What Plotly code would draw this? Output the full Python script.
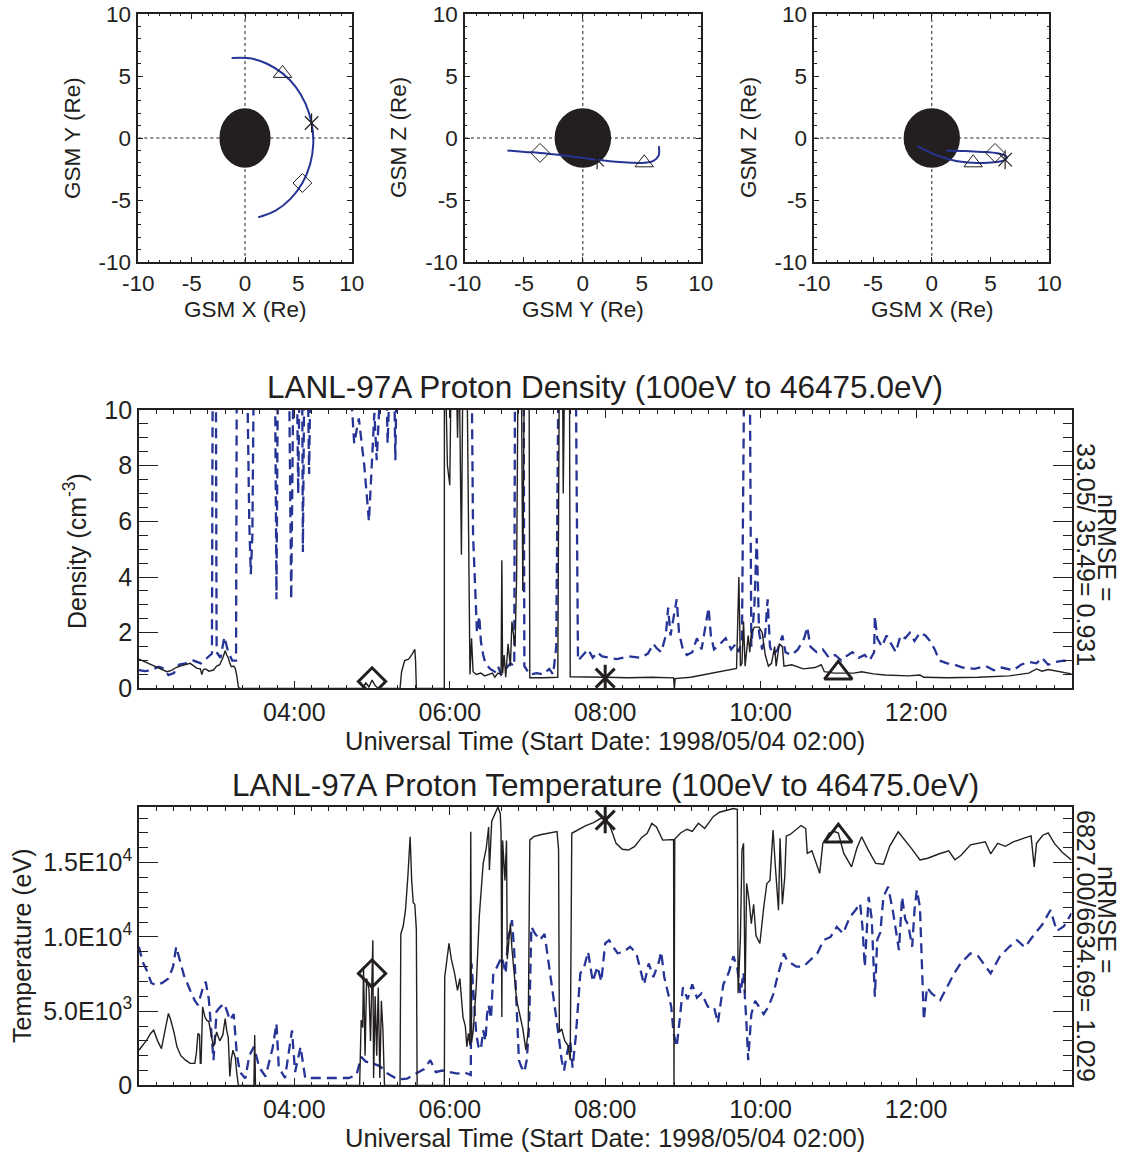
import plotly.graph_objects as go

W, H = 1129, 1155

# ---------------- orbit (hourly positions 02:00 .. 14:00, in Re) ----------------
orbit_hours = [2, 3, 4, 5, 6, 7, 8, 9, 10, 11, 12, 13, 14]
orbit_x = [1.24, 2.86, 4.26, 5.38, 6.11, 6.40, 6.24, 5.67, 4.75, 3.52, 2.06, 0.45, -1.25]
orbit_y = [-6.40, -5.86, -4.91, -3.63, -2.10, -0.45, 1.21, 2.77, 4.13, 5.21, 5.99, 6.43, 6.45]
orbit_z = [-1.00, -1.05, -1.12, -1.20, -1.35, -1.55, -1.75, -1.92, -2.00, -2.00, -1.85, -1.40, -0.65]
marker_hours = [5, 8, 11]          # diamond, asterisk, triangle
earth_radius = 2.4
axis_ticks_orbit = [-10, -5, 0, 5, 10]
axis_ticktext_orbit = ["-10", "-5", "0", "5", "10"]

# ---------------- density (cm^-3) ----------------
dens_obs_t = [2.00, 2.08, 2.14, 2.22, 2.30, 2.36, 2.42, 2.48, 2.53, 2.60, 2.66, 2.70, 2.75, 2.79, 2.81, 2.83,
              2.86, 2.90, 2.96, 3.00, 3.04, 3.08, 3.11, 3.13, 3.15, 3.17, 3.19, 3.22, 3.24, 3.26, 3.28, 3.30,
              4.88, 4.92, 4.96, 5.00, 5.04, 5.08, 5.36, 5.38, 5.42, 5.47, 5.51, 5.55, 5.56, 5.57, 5.93, 5.931,
              5.94, 5.97, 6.00, 6.02, 6.08, 6.10, 6.12, 6.15, 6.17, 6.22, 6.26, 6.28, 6.30, 6.34, 6.40, 6.45,
              6.50, 6.55, 6.58, 6.62, 6.66, 6.67, 6.68, 6.70, 6.72, 6.75, 6.78, 6.80, 6.84, 6.86, 6.88, 6.92,
              6.94, 6.96, 7.02, 7.03, 7.20, 7.39, 7.41, 7.45, 7.46, 7.48, 7.54, 7.55, 8.00, 8.30, 8.60, 8.88,
              8.89, 8.90, 9.10, 9.30, 9.50, 9.69, 9.72, 9.74, 9.76, 9.78, 9.80, 9.82, 9.84, 9.86, 9.88, 9.92,
              9.98, 10.02, 10.06, 10.10, 10.14, 10.18, 10.20, 10.24, 10.28, 10.30, 10.40, 10.55, 10.70, 10.78,
              10.82, 10.95, 11.10, 11.20, 11.30, 11.45, 11.60, 11.90, 12.05, 12.10, 12.40, 12.80, 13.20, 13.45,
              13.55, 13.62, 13.70, 13.85, 14.00]
dens_obs_v = [1.05, 0.95, 0.88, 0.78, 0.68, 0.60, 0.65, 0.75, 0.80, 0.85, 0.90, 0.82, 0.72, 0.70, 0.50, 0.68,
              0.70, 0.62, 0.66, 0.80, 0.85, 1.10, 1.35, 1.20, 1.10, 0.90, 0.78, 0.80, 0.72, 0.45, 0.05, 0.00,
              0.00, 0.20, 0.05, 0.30, 0.10, 0.00, 0.00, 0.60, 1.00, 1.05, 1.20, 1.40, 1.00, 0.00, 0.00, 12.0,
              12.0, 8.0, 7.3, 12.0, 12.0, 9.0, 12.0, 4.8, 12.0, 12.0, 0.50, 1.80, 0.60, 0.50, 0.55, 0.45,
              0.50, 0.55, 0.40, 0.55, 0.50, 4.60, 0.55, 1.20, 0.40, 1.60, 0.80, 2.40, 1.50, 4.00, 12.0, 12.0,
              3.50, 12.0, 12.0, 0.38, 0.38, 0.40, 12.0, 12.0, 7.0, 12.0, 12.0, 0.42, 0.40, 0.38, 0.40, 0.38,
              0.00, 0.35, 0.40, 0.50, 0.60, 0.72, 4.00, 0.80, 0.90, 2.40, 0.80, 1.40, 1.90, 1.30, 2.00, 2.20,
              2.20, 2.00, 1.20, 0.80, 0.90, 1.50, 0.80, 1.60, 1.50, 0.80, 0.85, 0.70, 0.75, 0.85,
              0.60, 0.55, 0.55, 0.55, 0.60, 0.52, 0.48, 0.45, 0.48, 0.40, 0.38, 0.40, 0.45, 0.55,
              0.70, 0.62, 0.68, 0.60, 0.52]

dens_mod_t = [2.00, 2.08, 2.17, 2.25, 2.32, 2.38, 2.45, 2.52, 2.60, 2.70, 2.80, 2.88, 2.94, 2.95, 2.99, 3.00,
              3.05, 3.10, 3.14, 3.20, 3.25, 3.26, 3.39, 3.42, 3.44, 3.46, 3.48, 3.75, 3.77, 3.79, 3.93, 3.96,
              3.99, 4.03, 4.05, 4.07, 4.10, 4.11, 4.13, 4.17, 4.19, 4.21, 4.70, 4.77, 4.83, 4.90, 4.96, 5.03,
              5.06, 5.10, 5.18, 5.20, 5.24, 5.28, 5.30, 5.32, 6.28, 6.30, 6.33, 6.35, 6.38, 6.40, 6.43, 6.46,
              6.52, 6.58, 6.62, 6.66, 6.72, 6.78, 6.83, 6.84, 6.95, 6.96, 7.03, 7.12, 7.20, 7.28, 7.33, 7.37,
              7.40, 7.62, 7.65, 7.72, 7.78, 7.84, 7.90, 7.96, 8.05, 8.15, 8.30, 8.45, 8.55, 8.62, 8.66, 8.72,
              8.78, 8.81, 8.84, 8.88, 8.92, 8.95, 9.00, 9.05, 9.12, 9.18, 9.24, 9.30, 9.33, 9.36, 9.40, 9.48,
              9.55, 9.62, 9.68, 9.72, 9.76, 9.79, 9.86, 9.88, 9.92, 9.95, 9.98, 10.02, 10.06, 10.09, 10.12,
              10.16, 10.22, 10.28, 10.32, 10.40, 10.48, 10.56, 10.60, 10.64, 10.72, 10.80, 10.88, 10.96, 11.04,
              11.10, 11.18, 11.26, 11.34, 11.40, 11.46, 11.47, 11.50, 11.56, 11.62, 11.68, 11.74, 11.80, 11.86,
              11.92, 11.98, 12.05, 12.12, 12.18, 12.24, 12.30, 12.40, 12.50, 12.60, 12.75, 12.90, 13.00, 13.10,
              13.25, 13.35, 13.45, 13.55, 13.62, 13.70, 13.80, 13.90, 14.00]
dens_mod_v = [0.66, 0.62, 0.66, 0.78, 0.72, 0.48, 0.55, 0.86, 0.90, 1.00, 0.90, 1.10, 1.25, 12.0, 12.0, 1.30,
              1.10, 1.85, 1.40, 1.00, 1.00, 12.0, 12.0, 6.0, 4.1, 5.5, 12.0, 12.0, 3.2, 12.0, 12.0, 3.2,
              12.0, 12.0, 7.0, 12.0, 12.0, 4.9, 12.0, 12.0, 7.7, 12.0, 12.0, 8.8, 9.7, 8.0, 6.0, 9.9,
              8.2, 10.5, 12.0, 8.8, 12.0, 12.0, 8.2, 12.0, 12.0, 5.5, 3.5, 2.0, 2.6, 1.7, 1.2, 0.9,
              0.7, 0.6, 0.8, 0.5, 0.7, 0.9, 0.8, 12.0, 12.0, 0.8, 0.5, 0.55, 0.5, 0.7, 0.5, 1.5,
              12.0, 12.0, 1.0, 1.2, 1.4, 1.1, 1.3, 1.15, 1.10, 1.05, 1.15, 1.10, 1.25, 1.60, 1.45, 1.30,
              1.90, 2.90, 1.90, 2.50, 3.20, 2.00, 1.40, 1.20, 1.30, 1.80, 1.40, 2.40, 2.90, 1.90, 1.40, 1.60,
              1.80, 1.40, 1.60, 1.30, 1.80, 12.0, 12.0, 1.5, 3.0, 5.4, 2.0, 1.4, 2.0, 3.2, 1.5,
              1.2, 1.4, 1.9, 1.3, 1.2, 1.4, 1.8, 2.2, 1.5, 1.3, 1.4, 1.1, 1.2, 1.0,
              1.15, 1.3, 1.1, 1.2, 1.0, 1.3, 2.6, 1.8, 1.5, 1.9, 1.6, 1.3, 1.9, 1.8,
              2.0, 1.7, 2.0, 1.9, 1.7, 1.4, 1.0, 0.9, 0.85, 0.75, 0.7, 0.8, 0.65, 0.75,
              0.65, 0.85, 0.95, 0.9, 1.1, 0.85, 0.95, 1.0, 0.95]
dens_marker_v = [0.25, 0.37, 0.55]

# ---------------- temperature (eV) ----------------
temp_obs_t = [2.00, 2.05, 2.10, 2.15, 2.19, 2.24, 2.29, 2.34, 2.38, 2.41, 2.45, 2.49, 2.54, 2.60, 2.66, 2.72,
              2.74, 2.76, 2.78, 2.79, 2.80, 2.82, 2.85, 2.87, 2.90, 2.93, 2.96, 3.00, 3.04, 3.08, 3.11, 3.13,
              3.15, 3.17, 3.19, 3.21, 3.24, 3.26, 3.28, 3.48, 3.49, 3.50, 4.84, 4.86, 4.88, 4.89, 4.91, 4.93,
              4.96, 4.98, 5.01, 5.02, 5.04, 5.06, 5.08, 5.10, 5.12, 5.14, 5.16, 5.36, 5.37, 5.40, 5.43, 5.46,
              5.49, 5.51, 5.53, 5.55, 5.57, 5.58, 5.93, 5.935, 5.96, 5.99, 6.02, 6.06, 6.10, 6.13, 6.17, 6.20,
              6.22, 6.24, 6.26, 6.27, 6.28, 6.30, 6.34, 6.38, 6.43, 6.47, 6.50, 6.51, 6.54, 6.58, 6.62, 6.65,
              6.66, 6.67, 6.68, 6.71, 6.73, 6.74, 6.78, 6.80, 6.83, 6.86, 6.90, 6.94, 6.98, 7.01, 7.03, 7.08,
              7.18, 7.28, 7.38, 7.40, 7.41, 7.44, 7.48, 7.52, 7.55, 7.57, 7.65, 7.75, 7.85, 7.95, 8.02, 8.08,
              8.14, 8.22, 8.30, 8.38, 8.47, 8.54, 8.60, 8.66, 8.74, 8.88, 8.885, 8.895, 8.97, 9.05, 9.12, 9.20,
              9.28, 9.39, 9.47, 9.55, 9.65, 9.70, 9.71, 9.74, 9.76, 9.78, 9.80, 9.82, 9.85, 9.88, 9.91, 9.94,
              9.99, 10.04, 10.08, 10.12, 10.16, 10.19, 10.23, 10.25, 10.28, 10.31, 10.33, 10.38, 10.45, 10.52,
              10.58, 10.60, 10.66, 10.73, 10.76, 10.80, 10.88, 10.95, 11.00, 11.07, 11.17, 11.24, 11.30, 11.38,
              11.48, 11.58, 11.66, 11.77, 11.86, 11.95, 12.05, 12.15, 12.30, 12.42, 12.50, 12.58, 12.70, 12.89,
              12.96, 13.05, 13.15, 13.25, 13.38, 13.48, 13.52, 13.55, 13.63, 13.70, 13.78, 13.88, 14.00]
temp_obs_v = [2370, 2700, 3050, 3500, 3720, 3000, 2480, 3800, 4850, 4400, 3600, 2600, 2000, 1700, 1480, 1480,
              2200, 3500, 3400, 1480, 1480, 5290, 4600, 4400, 4300, 3400, 2600, 3600, 3000, 3400, 4500, 3700,
              3200, 600, 1800, 2370, 1900, 800, 0, 0, 3400, 0, 0, 4400, 3900, 8000, 2000, 7200,
              6500, 3000, 9780, 500, 6000, 2000, 6600, 500, 5700, 3700, 0, 0, 10200, 10700, 11800, 14000,
              16750, 13800, 12300, 12200, 10500, 0, 0, 7300, 8400, 9560, 8500, 7600, 6400, 7200, 4600, 4000,
              2600, 3500, 2700, 17080, 2900, 3600, 6600, 11400, 14950, 16000, 17400, 14500, 17800, 18300, 18750, 18300,
              16975, 4600, 16500, 13800, 16500, 8500, 10900, 9200, 7500, 5740, 4800, 3800, 2370, 3700, 16520, 16750,
              16900, 17000, 17100, 15900, 3600, 3800, 3000, 2700, 1700, 16980, 17200, 17500, 17700, 18000, 17870, 17200,
              16300, 15900, 15850, 16100, 16700, 16980, 17650, 17400, 16520, 16560, 0, 16600, 17000, 17250, 17100, 17650,
              17300, 18100, 18400, 18500, 18650, 18600, 6200, 10000, 15850, 16300, 6200, 13600, 12500, 10900, 12200, 10100,
              9560, 12000, 13600, 13800, 17200, 14700, 11800, 16650, 12200, 14000, 16800, 16900, 17200, 17500,
              17300, 15625, 15800, 14720, 14280, 16300, 17000, 17100, 17000, 15620, 14720, 16000, 16750, 15900,
              14950, 14900, 16100, 17080, 16500, 15900, 15180, 15300, 15600, 15800, 15200, 15500, 16200, 16410,
              15600, 16300, 16100, 16400, 16640, 16800, 14720, 16300, 16850, 17000, 16300, 15700, 15180]

temp_mod_t = [2.00, 2.05, 2.10, 2.16, 2.22, 2.30, 2.38, 2.44, 2.48, 2.52, 2.58, 2.66, 2.72, 2.76, 2.82, 2.86,
              2.90, 2.96, 3.00, 3.05, 3.10, 3.14, 3.17, 3.22, 3.26, 3.30, 3.37, 3.42, 3.48, 3.55, 3.63, 3.72,
              3.77, 3.80, 3.88, 3.97, 4.01, 4.08, 4.14, 4.25, 4.40, 4.55, 4.70, 4.80, 4.86, 4.92, 5.00, 5.10,
              5.20, 5.33, 5.45, 5.55, 5.67, 5.75, 5.82, 5.90, 6.00, 6.10, 6.18, 6.27, 6.28, 6.31, 6.34, 6.37,
              6.40, 6.43, 6.46, 6.48, 6.50, 6.53, 6.56, 6.60, 6.67, 6.72, 6.75, 6.78, 6.80, 6.83, 6.85, 6.87,
              6.89, 6.92, 6.96, 6.99, 7.02, 7.03, 7.05, 7.10, 7.16, 7.22, 7.26, 7.30, 7.34, 7.38, 7.44, 7.47,
              7.51, 7.55, 7.58, 7.62, 7.68, 7.73, 7.78, 7.84, 7.90, 7.95, 8.00, 8.05, 8.10, 8.16, 8.24, 8.32,
              8.40, 8.47, 8.50, 8.56, 8.62, 8.69, 8.72, 8.76, 8.82, 8.85, 8.88, 8.92, 8.96, 9.00, 9.06, 9.12,
              9.18, 9.24, 9.32, 9.40, 9.45, 9.52, 9.59, 9.65, 9.70, 9.74, 9.78, 9.80, 9.82, 9.84, 9.88, 9.93,
              9.98, 10.04, 10.10, 10.16, 10.22, 10.30, 10.34, 10.40, 10.46, 10.55, 10.64, 10.73, 10.81, 10.90,
              10.98, 11.06, 11.15, 11.22, 11.28, 11.31, 11.34, 11.39, 11.43, 11.47, 11.50, 11.54, 11.58, 11.64,
              11.70, 11.78, 11.82, 11.86, 11.90, 11.95, 11.98, 12.01, 12.05, 12.10, 12.14, 12.20, 12.31, 12.40,
              12.49, 12.57, 12.70, 12.80, 12.96, 13.08, 13.20, 13.30, 13.40, 13.51, 13.62, 13.73, 13.81, 13.90,
              14.00]
temp_mod_v = [9335, 8300, 7760, 6900, 6750, 6900, 7200, 8000, 9335, 8600, 7400, 6400, 5700, 5410, 6500, 6976,
              5800, 1700, 5000, 5300, 5500, 4900, 4400, 4800, 2100, 900, 470, 2000, 2600, 1200, 600, 2500,
              4170, 1200, 500, 3700, 900, 2600, 500, 500, 500, 500, 500, 700, 1920, 1600, 1500, 1300,
              800, 400, 450, 750, 1100, 1700, 900, 1000, 900, 800, 900, 700, 8215, 5700, 3500, 2600,
              2400, 3720, 3000, 4800, 5400, 4500, 7540, 7900, 8660, 7540, 10000, 10500, 11130, 9000, 6500, 3000,
              1700, 1250, 900, 1700, 3900, 6000, 10680, 10200, 9800, 10200, 8700, 7500, 6000, 4200, 1700, 1000,
              2200, 3000, 1200, 3200, 7540, 8000, 9000, 7000, 8000, 7000, 9560, 9780, 9335, 8900, 9000, 9335,
              8900, 7540, 6800, 8215, 7300, 8300, 9000, 7300, 5800, 5290, 3500, 2600, 4500, 6600, 5800, 6800,
              5900, 6200, 5300, 5290, 4200, 6800, 7600, 8700, 7900, 6200, 7600, 6000, 3940, 1700, 4800, 5700,
              5300, 4800, 5300, 6100, 7400, 8890, 8400, 8200, 8000, 8000, 8440, 8900, 9780, 10000,
              10680, 10230, 11360, 11800, 12260, 10700, 7990, 12700, 11200, 5970, 9800, 10300, 12700, 13380,
              11800, 9110, 12700, 11200, 10800, 9335, 11800, 13160, 12000, 4390, 6600, 6200, 5740, 6600,
              7540, 8200, 8890, 8700, 7540, 8700, 9335, 9780, 9300, 10100, 10800, 11810, 10400, 10700,
              11580]
temp_marker_v = [7540, 17870, 16790]

time_tickvals = [4, 6, 8, 10, 12]
time_ticktext = ["04:00", "06:00", "08:00", "10:00", "12:00"]
dens_tickvals = [0, 2, 4, 6, 8, 10]
temp_tickvals = [0, 5000, 10000, 15000]
temp_ticktext = ["0", "5.0E10<sup>3</sup>", "1.0E10<sup>4</sup>", "1.5E10<sup>4</sup>"]

BLUE = "rgb(38,52,150)"
INK = "#231f20"
FONT = "Liberation Sans, Arial, Helvetica, sans-serif"

# ---------------- layout geometry (pixels) ----------------
panels = {
    1: dict(x=(138.3, 351.7), y=(14, 262)),
    2: dict(x=(465.0, 700.7), y=(14, 262)),
    3: dict(x=(814.3, 1049.3), y=(14, 262)),
    4: dict(x=(138.9, 1071.5), y=(410.0, 688.4)),
    5: dict(x=(138.9, 1071.5), y=(807.0, 1085.4)),
}


def xdom(p):
    return [panels[p]["x"][0] / W, panels[p]["x"][1] / W]


def ydom(p):
    return [1 - panels[p]["y"][1] / H, 1 - panels[p]["y"][0] / H]


def base_axis(**kw):
    d = dict(showline=True, linecolor=INK, linewidth=1.5, mirror="ticks", ticks="inside",
             tickcolor=INK, tickwidth=1.3, showgrid=False, zeroline=False, automargin=False,
             tickfont=dict(family=FONT, size=22, color=INK))
    d.update(kw)
    return d


fig = go.Figure()

# ---------------- orbit panels ----------------
orbit_pairs = [(1, orbit_x, orbit_y), (2, orbit_y, orbit_z), (3, orbit_x, orbit_z)]
mk_idx = [orbit_hours.index(h) for h in marker_hours]
for p, xs, ys in orbit_pairs:
    xa = "x" if p == 1 else f"x{p}"
    ya = "y" if p == 1 else f"y{p}"
    fig.add_trace(go.Scatter(x=xs, y=ys, mode="lines", xaxis=xa, yaxis=ya,
                             line=dict(color=BLUE, width=2, shape="spline"), showlegend=False))
    mx = [xs[i] for i in mk_idx]
    my = [ys[i] for i in mk_idx]
    fig.add_trace(go.Scatter(x=[mx[0]], y=[my[0]], mode="markers", xaxis=xa, yaxis=ya, showlegend=False,
                             marker=dict(symbol="diamond-open", size=14.5, color=INK, line=dict(width=1, color=INK))))
    fig.add_trace(go.Scatter(x=[mx[2]], y=[my[2]], mode="markers", xaxis=xa, yaxis=ya, showlegend=False,
                             marker=dict(symbol="triangle-up-open", size=16, color=INK, line=dict(width=1, color=INK))))
    for sym in ("x-thin-open", "line-ns-open"):
        fig.add_trace(go.Scatter(x=[mx[1]], y=[my[1]], mode="markers", xaxis=xa, yaxis=ya, showlegend=False,
                                 marker=dict(symbol=sym, size=13.5, color=INK, line=dict(width=1.2, color=INK))))
    # zero lines and Earth
    fig.add_shape(type="line", xref=xa, yref=ya, x0=-10, x1=10, y0=0, y1=0, layer="below",
                  line=dict(color=INK, width=1, dash="dot"))
    fig.add_shape(type="line", xref=xa, yref=ya, x0=0, x1=0, y0=-10, y1=10, layer="below",
                  line=dict(color=INK, width=1, dash="dot"))
    fig.add_shape(type="circle", xref=xa, yref=ya, x0=-earth_radius, x1=earth_radius,
                  y0=-earth_radius, y1=earth_radius, layer="below", fillcolor=INK, line=dict(width=0))

# ---------------- time series panels ----------------
mk_time = marker_hours
for p, ot, ov, mt, mv, mkv in [(4, dens_obs_t, dens_obs_v, dens_mod_t, dens_mod_v, dens_marker_v),
                               (5, temp_obs_t, temp_obs_v, temp_mod_t, temp_mod_v, temp_marker_v)]:
    xa, ya = f"x{p}", f"y{p}"
    fig.add_trace(go.Scatter(x=mt, y=mv, mode="lines", xaxis=xa, yaxis=ya, showlegend=False,
                             line=dict(color=BLUE, width=2.3, dash="10px,6px")))
    fig.add_trace(go.Scatter(x=ot, y=ov, mode="lines", xaxis=xa, yaxis=ya, showlegend=False,
                             line=dict(color=INK, width=1.4)))
    fig.add_trace(go.Scatter(x=[mk_time[0]], y=[mkv[0]], mode="markers", xaxis=xa, yaxis=ya, showlegend=False,
                             marker=dict(symbol="diamond-open", size=21, color=INK, line=dict(width=3, color=INK))))
    fig.add_trace(go.Scatter(x=[mk_time[2]], y=[mkv[2]], mode="markers", xaxis=xa, yaxis=ya, showlegend=False,
                             marker=dict(symbol="triangle-up-open", size=24, color=INK, line=dict(width=3, color=INK))))
    for sym in ("x-thin-open", "line-ns-open"):
        fig.add_trace(go.Scatter(x=[mk_time[1]], y=[mkv[1]], mode="markers", xaxis=xa, yaxis=ya, showlegend=False,
                                 marker=dict(symbol=sym, size=19, color=INK, line=dict(width=3, color=INK))))

layout = dict(width=W, height=H, margin=dict(l=0, r=0, t=0, b=0, autoexpand=False), paper_bgcolor="white",
              plot_bgcolor="white", showlegend=False)

for p in (1, 2, 3):
    xk = "xaxis" if p == 1 else f"xaxis{p}"
    yk = "yaxis" if p == 1 else f"yaxis{p}"
    ya = "y" if p == 1 else f"y{p}"
    xa = "x" if p == 1 else f"x{p}"
    layout[xk] = base_axis(domain=xdom(p), range=[-10, 10], anchor=ya, tickmode="array",
                           tickvals=axis_ticks_orbit, ticktext=axis_ticktext_orbit, ticklen=5,
                           tickfont=dict(family=FONT, size=22.5, color=INK), ticklabelstandoff=0,
                           minor=dict(tickmode="linear", tick0=0, dtick=1, ticklen=2.5, ticks="inside",
                                      tickcolor=INK, tickwidth=1))
    layout[yk] = base_axis(domain=ydom(p), range=[-10, 10], anchor=xa, tickmode="array",
                           tickvals=axis_ticks_orbit, ticktext=axis_ticktext_orbit, ticklen=5,
                           tickfont=dict(family=FONT, size=22.5, color=INK), ticklabelstandoff=1,
                           minor=dict(tickmode="linear", tick0=0, dtick=1, ticklen=2.5, ticks="inside",
                                      tickcolor=INK, tickwidth=1))

for p in (4, 5):
    layout[f"xaxis{p}"] = base_axis(domain=xdom(p), range=[2, 14], anchor=f"y{p}", tickmode="array",
                                    tickvals=time_tickvals, ticktext=time_ticktext, ticklen=8,
                                    tickfont=dict(family=FONT, size=25, color=INK), ticklabelstandoff=1,
                                    minor=dict(tickmode="linear", tick0=2, dtick=2 / 9, ticklen=4,
                                               ticks="inside", tickcolor=INK, tickwidth=1))
layout["yaxis4"] = base_axis(domain=ydom(4), range=[0, 10], anchor="x4", tickmode="array",
                             tickvals=dens_tickvals, ticklen=19, ticklabelstandoff=0,
                             tickfont=dict(family=FONT, size=25, color=INK),
                             minor=dict(tickmode="linear", tick0=0, dtick=0.5, ticklen=9, ticks="inside",
                                        tickcolor=INK, tickwidth=1))
layout["yaxis5"] = base_axis(domain=ydom(5), range=[0, 18750], anchor="x5", tickmode="array",
                             tickvals=temp_tickvals, ticktext=temp_ticktext, ticklen=19, ticklabelstandoff=0,
                             tickfont=dict(family=FONT, size=25, color=INK),
                             minor=dict(tickmode="linear", tick0=0, dtick=1000, ticklen=9, ticks="inside",
                                        tickcolor=INK, tickwidth=1))
fig.update_layout(**layout)


def ann(text, px, py, size, angle=0):
    fig.add_annotation(text=text, x=px / W, y=1 - py / H, xref="paper", yref="paper",
                       xanchor="center", yanchor="middle", showarrow=False, textangle=angle,
                       font=dict(family=FONT, size=size, color=INK))


# orbit axis titles
ann("GSM X (Re)", 245, 309, 22.5)
ann("GSM Y (Re)", 583, 309, 22.5)
ann("GSM X (Re)", 932, 309, 22.5)
ann("GSM Y (Re)", 72, 138, 22.5, -90)
ann("GSM Z (Re)", 398, 138, 22.5, -90)
ann("GSM Z (Re)", 748, 138, 22.5, -90)

# density panel text
ann("LANL-97A Proton Density (100eV to 46475.0eV)", 605, 387, 31.5)
ann("Universal Time (Start Date: 1998/05/04 02:00)", 605, 741, 25.5)
ann("Density (cm<sup>-3</sup>)", 75, 551, 25, -90)
ann("nRMSE =", 1107, 548, 25, 90)
ann("33.05/ 35.49= 0.931", 1086, 554, 25, 90)

# temperature panel text
ann("LANL-97A Proton Temperature (100eV to 46475.0eV)", 605, 785, 31.5)
ann("Universal Time (Start Date: 1998/05/04 02:00)", 605, 1138, 25.5)
ann("Temperature (eV)", 22, 946, 25, -90)
ann("nRMSE =", 1107, 920, 25, 90)
ann("6827.00/6634.69= 1.029", 1086, 946, 25, 90)

fig.write_html("out.html")
